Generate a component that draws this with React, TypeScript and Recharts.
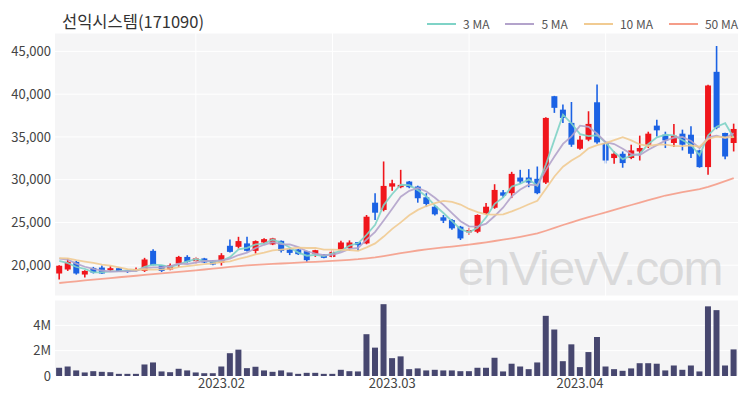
import React from "react";
import { Bar, CartesianGrid, ComposedChart, Line, ReferenceLine, XAxis, YAxis } from "recharts";

// trading days shown on the chart
const dates = [
  "2023-01-03", "2023-01-04", "2023-01-05", "2023-01-06", "2023-01-09", "2023-01-10", "2023-01-11", "2023-01-12", "2023-01-13", "2023-01-16",
  "2023-01-17", "2023-01-18", "2023-01-19", "2023-01-20", "2023-01-25", "2023-01-26", "2023-01-27", "2023-01-30", "2023-01-31", "2023-02-01",
  "2023-02-02", "2023-02-03", "2023-02-06", "2023-02-07", "2023-02-08", "2023-02-09", "2023-02-10", "2023-02-13", "2023-02-14", "2023-02-15",
  "2023-02-16", "2023-02-17", "2023-02-20", "2023-02-21", "2023-02-22", "2023-02-23", "2023-02-24", "2023-02-27", "2023-02-28", "2023-03-02",
  "2023-03-03", "2023-03-06", "2023-03-07", "2023-03-08", "2023-03-09", "2023-03-10", "2023-03-13", "2023-03-14", "2023-03-15", "2023-03-16",
  "2023-03-17", "2023-03-20", "2023-03-21", "2023-03-22", "2023-03-23", "2023-03-24", "2023-03-27", "2023-03-28", "2023-03-29", "2023-03-30",
  "2023-03-31", "2023-04-03", "2023-04-04", "2023-04-05", "2023-04-06", "2023-04-07", "2023-04-10", "2023-04-11", "2023-04-12", "2023-04-13",
  "2023-04-14", "2023-04-17", "2023-04-18", "2023-04-19", "2023-04-20", "2023-04-21", "2023-04-24", "2023-04-25", "2023-04-26", "2023-04-27",
];

const opens = [
  19030, 19500, 20390, 18910, 19680, 19730, 19410, 19650, 19410, 19330,
  19330, 21680, 20000, 19500, 20200, 20970, 20470, 20790, 20550, 20270,
  22270, 22150, 22550, 21680, 22660, 22430, 22850, 21840, 21840, 21640,
  21290, 21250, 20970, 21760, 22000, 22700, 22550, 27310, 26460, 29190,
  29120, 29780, 29200, 27940, 26840, 25600, 25280, 24500, 23840, 23910,
  26050, 26720, 28520, 28420, 30250, 30250, 30100, 29660, 39760, 38190,
  36640, 33620, 34680, 39050, 34290, 32530, 33030, 32530, 33300, 34090,
  36320, 35260, 34290, 35380, 35260, 33420, 31470, 42610, 35460, 34290,
];
const highs = [
  20000, 20790, 20500, 19410, 19800, 19960, 19880, 19700, 19450, 19730,
  20860, 21880, 20000, 20200, 21090, 21170, 20970, 20860, 20600, 21410,
  23020, 23320, 23320, 22900, 23150, 23200, 22900, 21960, 21900, 21700,
  21800, 21290, 21760, 22850, 22900, 22700, 25870, 28420, 32130, 29980,
  31150, 29850, 29300, 28420, 27000, 25870, 25400, 24600, 24380, 25950,
  27280, 29470, 28800, 30920, 31150, 31230, 31540, 37300, 39800, 38780,
  39080, 35150, 38000, 41130, 34400, 33300, 33300, 34090, 35150, 35610,
  37020, 35610, 36520, 35850, 36240, 33500, 41100, 45630, 35500, 36550,
];
const lows = [
  18330, 19330, 18900, 18560, 19030, 18960, 19350, 19200, 19100, 19300,
  19210, 20000, 19200, 19400, 19800, 20300, 20200, 20250, 20000, 19960,
  21500, 21960, 21600, 21370, 22550, 22350, 21500, 21180, 21200, 20390,
  20970, 20800, 20900, 21640, 21680, 21680, 22450, 25280, 26300, 28720,
  29000, 29000, 27310, 26800, 25800, 24930, 24150, 22950, 23520, 23750,
  25900, 26600, 27850, 27850, 29510, 29120, 28300, 29500, 37810, 36640,
  33840, 33500, 34500, 34200, 31900, 31860, 31400, 32400, 32240, 33700,
  35060, 33700, 33820, 33420, 32530, 31400, 30570, 35900, 32400, 33300,
];
const closes = [
  19940, 20390, 19030, 19330, 19140, 19030, 19650, 19260, 19260, 19500,
  20670, 20000, 19330, 20000, 20970, 20390, 20790, 20320, 20080, 21170,
  21560, 22820, 21680, 22820, 23050, 23130, 21680, 21440, 21290, 20590,
  21760, 20860, 21560, 22660, 22660, 22350, 25670, 26140, 29270, 29580,
  29390, 29120, 27830, 27160, 25950, 25200, 24310, 23130, 24110, 25870,
  26840, 28800, 28130, 30680, 29780, 29660, 28420, 37220, 38400, 37220,
  34090, 34680, 36520, 34360, 32240, 33030, 31940, 33420, 33700, 35380,
  35770, 34590, 35150, 34090, 33030, 31470, 41010, 36090, 32710, 35930,
];

const ma3 = [
  20510, 20240, 19790, 19580, 19170, 19170, 19270, 19310, 19390, 19340,
  19810, 20060, 20000, 19780, 20100, 20450, 20720, 20500, 20400, 20520,
  20940, 21850, 22020, 22440, 22520, 23000, 22620, 22080, 21470, 21110,
  21210, 21070, 21390, 21690, 22290, 22560, 23560, 24720, 27030, 28330,
  29410, 29360, 28780, 28040, 26980, 26100, 25150, 24210, 23850, 24370,
  25610, 27170, 27920, 29200, 29530, 30040, 29290, 31770, 34680, 37610,
  36570, 35330, 35100, 35190, 34370, 33210, 32400, 32800, 33020, 34170,
  34950, 35250, 35170, 34610, 34090, 32860, 35170, 36190, 36600, 34910,
];
const ma5 = [
  20770, 20650, 20190, 19820, 19570, 19380, 19240, 19280, 19270, 19340,
  19670, 19740, 19750, 19900, 20190, 20140, 20300, 20490, 20510, 20550,
  20780, 21190, 21460, 22010, 22390, 22700, 22470, 22420, 22120, 21630,
  21350, 21190, 21210, 21490, 21900, 22020, 22980, 23900, 25220, 26600,
  28010, 28700, 29040, 28620, 27890, 27050, 26090, 25150, 24540, 24520,
  24850, 25750, 26750, 28060, 28850, 29410, 29330, 31150, 32700, 34180,
  35070, 36320, 36180, 35370, 34380, 34170, 33620, 33000, 32870, 33490,
  34040, 34570, 34920, 35000, 34530, 33670, 34950, 35140, 34860, 35440,
];
const ma10 = [
  20830, 20790, 20590, 20420, 20270, 20080, 19940, 19740, 19540, 19450,
  19530, 19490, 19520, 19580, 19770, 19900, 20020, 20120, 20210, 20370,
  20460, 20740, 20980, 21260, 21470, 21740, 21830, 21940, 22060, 22010,
  22030, 21830, 21820, 21800, 21760, 21690, 22080, 22550, 23350, 24250,
  25010, 25840, 26470, 26920, 27250, 27530, 27400, 27090, 26580, 26210,
  25950, 25920, 25950, 26300, 26690, 27130, 27540, 28950, 30380, 31520,
  32240, 32830, 33670, 34040, 34280, 34620, 34970, 34590, 34120, 33940,
  34100, 34100, 33960, 33930, 34010, 33850, 34760, 35030, 34930, 34980,
];
const ma50 = [
  17920, 18020, 18120, 18220, 18320, 18410, 18500, 18590, 18680, 18770,
  18860, 18950, 19040, 19130, 19220, 19310, 19400, 19500, 19600, 19700,
  19800, 19900, 19980, 20040, 20100, 20150, 20200, 20250, 20300, 20350,
  20400, 20450, 20500, 20560, 20630, 20700, 20800, 20920, 21070, 21230,
  21400, 21560, 21720, 21860, 21980, 22080, 22180, 22290, 22410, 22540,
  22680, 22830, 22980, 23140, 23320, 23510, 23720, 24030, 24360, 24700,
  25020, 25320, 25610, 25900, 26190, 26480, 26760, 27040, 27320, 27600,
  27880, 28150, 28350, 28540, 28720, 28900, 29150, 29480, 29820, 30180,
];

const volumes = [
  650000, 750000, 440000, 280000, 380000, 330000, 300000, 170000, 170000, 170000,
  910000, 1070000, 360000, 300000, 570000, 440000, 280000, 220000, 220000, 750000,
  1800000, 2080000, 620000, 730000, 440000, 330000, 440000, 280000, 170000, 250000,
  250000, 170000, 170000, 490000, 380000, 360000, 3300000, 2240000, 5670000, 1410000,
  1550000, 540000, 600000, 440000, 490000, 440000, 440000, 380000, 380000, 650000,
  650000, 1440000, 360000, 970000, 750000, 540000, 1070000, 4750000, 3670000, 1170000,
  2500000, 700000, 1890000, 3080000, 750000, 540000, 410000, 600000, 1010000, 1010000,
  970000, 440000, 830000, 490000, 830000, 360000, 5500000, 5200000, 830000, 2100000,
];

const priceTicks = [20000, 25000, 30000, 35000, 40000, 45000];
const volumeTicks = [0, 2000000, 4000000];
const monthTicks = ["2023-02-01", "2023-03-02", "2023-04-03"];
const gridDates = ["2023-01-27", "2023-02-20", "2023-03-15", "2023-04-06"];

const legendItems = [
  { name: "3 MA", key: "ma3", color: "#7fd3c7" },
  { name: "5 MA", key: "ma5", color: "#b3a3cb" },
  { name: "10 MA", key: "ma10", color: "#f1cb92" },
  { name: "50 MA", key: "ma50", color: "#f59d89" },
];

const RED = "#f0161c";
const BLUE = "#1b62e4";
const PANEL = "#f5f5f6";
const FONT = '"Noto Sans CJK KR", "Noto Sans", sans-serif';

const priceRows = dates.map((date, i) => ({
  date,
  open: opens[i],
  high: highs[i],
  low: lows[i],
  close: closes[i],
  ma3: ma3[i],
  ma5: ma5[i],
  ma10: ma10[i],
  ma50: ma50[i],
}));

const volumeRows = dates.map((date, i) => ({ date, volume: volumes[i] }));

function Candle(props: any) {
  const { x, y, width, height, payload } = props;
  if (x == null || y == null || !payload) return null;
  const top = Math.min(y, y + height);
  const h = Math.abs(height);
  const span = payload.high - payload.low || 1;
  const py = (v: number) => top + ((payload.high - v) / span) * h;
  const color = payload.close >= payload.open ? RED : BLUE;
  const cx = x + width / 2;
  const bodyTop = py(Math.max(payload.open, payload.close));
  const bodyBottom = py(Math.min(payload.open, payload.close));
  return (
    <g>
      <line x1={cx} x2={cx} y1={top} y2={top + h} stroke={color} strokeWidth={1.6} />
      <rect x={x} y={bodyTop} width={width} height={Math.max(bodyBottom - bodyTop, 1.5)} fill={color} />
    </g>
  );
}

const axisTick = { fontSize: 13, fill: "#444", fontFamily: FONT };

export default function App() {
  return (
    <div style={{ position: "absolute", left: 0, top: 0, width: 750, height: 400, background: "#fff", fontFamily: FONT }}>
      <div style={{ position: "absolute", left: 62, top: 10, fontSize: 16.5, color: "#333", lineHeight: "22px" }}>
        선익시스템(171090)
      </div>
      <div style={{ position: "absolute", right: 12, top: 15, display: "flex", alignItems: "center", fontSize: 12, color: "#555", lineHeight: "18px" }}>
        {legendItems.map((it) => (
          <div key={it.key} style={{ display: "flex", alignItems: "center", marginLeft: 16 }}>
            <div style={{ width: 29, height: 2, background: it.color, marginRight: 7 }} />
            <span>{it.name}</span>
          </div>
        ))}
      </div>

      <div style={{ position: "absolute", left: 0, top: 0 }}>
        <ComposedChart width={750} height={300} data={priceRows} margin={{ top: 33, right: 12, bottom: 4, left: 0 }} barCategoryGap="14%">
          <CartesianGrid vertical={false} stroke="#fff" fill={PANEL} />
          <XAxis dataKey="date" hide />
          <YAxis
            domain={[16400, 47150]}
            ticks={priceTicks}
            tickFormatter={(v: number) => v.toLocaleString("en-US")}
            width={55}
            axisLine={false}
            tickLine={false}
            tickSize={2}
            tickMargin={2}
            tick={axisTick}
          />
          {gridDates.map((d) => (
            <ReferenceLine key={d} x={d} stroke="#fff" strokeWidth={1} />
          ))}
          <Bar dataKey={(d: any) => [d.low, d.high]} shape={<Candle />} isAnimationActive={false} />
          {legendItems.map((it) => (
            <Line
              key={it.key}
              type="linear"
              dataKey={it.key}
              stroke={it.color}
              strokeWidth={1.8}
              strokeOpacity={0.9}
              dot={false}
              activeDot={false}
              isAnimationActive={false}
            />
          ))}
        </ComposedChart>
      </div>

      <div
        style={{
          position: "absolute",
          left: 458,
          top: 241,
          fontSize: 48,
          letterSpacing: -1.2,
          color: "rgba(190,190,190,0.5)",
          fontFamily: '"Liberation Sans", Arial, sans-serif',
          lineHeight: "normal",
          pointerEvents: "none",
        }}
      >
        enVievV.com
      </div>

      <div style={{ position: "absolute", left: 0, top: 290 }}>
        <ComposedChart width={750} height={110} data={volumeRows} margin={{ top: 10, right: 12, bottom: 0, left: 0 }} barCategoryGap="13%">
          <CartesianGrid vertical={false} stroke="#fff" fill={PANEL} />
          <XAxis
            dataKey="date"
            ticks={monthTicks}
            interval={0}
            tickFormatter={(d: string) => d.slice(0, 7).replace("-", ".")}
            axisLine={false}
            tickLine={false}
            tickSize={0}
            tickMargin={3}
            height={24}
            tick={axisTick}
          />
          <YAxis
            domain={[0, 6000000]}
            ticks={volumeTicks}
            tickFormatter={(v: number) => (v === 0 ? "0" : v / 1000000 + "M")}
            width={55}
            axisLine={false}
            tickLine={false}
            tickSize={2}
            tickMargin={2}
            tick={axisTick}
          />
          <Bar dataKey="volume" fill="#47476f" isAnimationActive={false} />
        </ComposedChart>
      </div>
    </div>
  );
}
